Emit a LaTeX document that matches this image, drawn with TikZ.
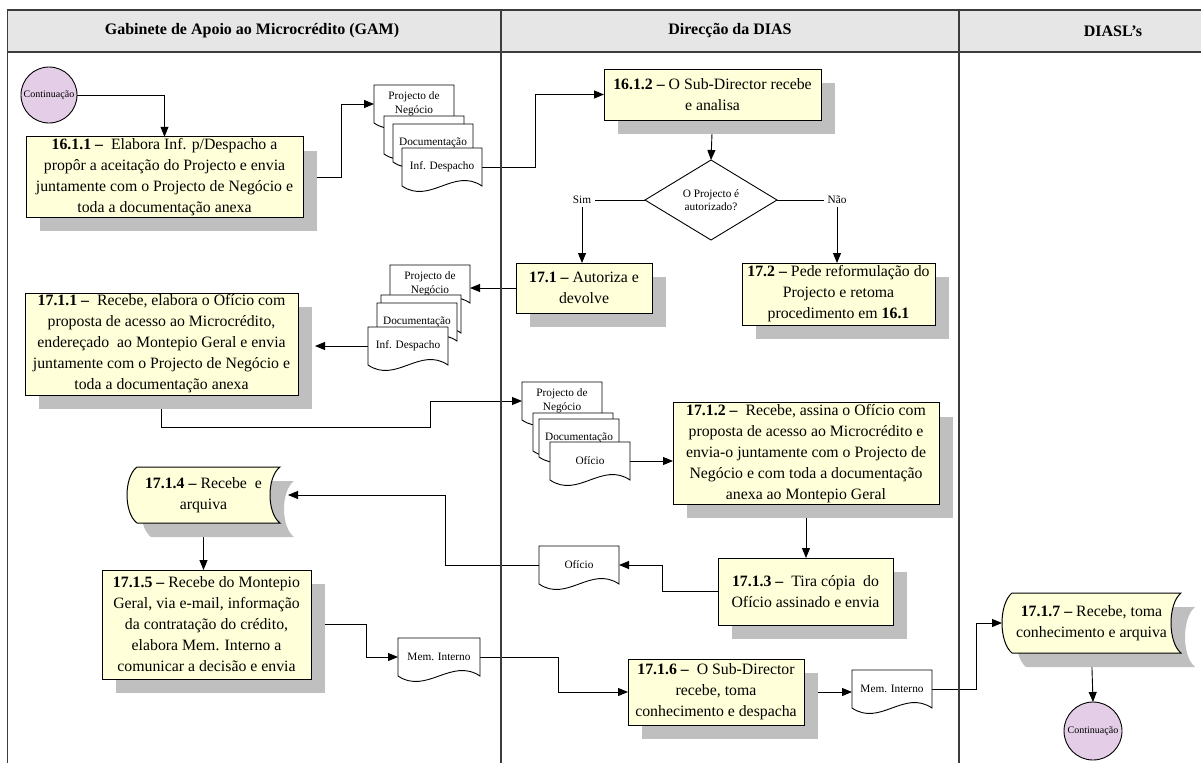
\documentclass[tikz,border=0pt]{standalone}
\usepackage{fontspec}
\setmainfont{Liberation Serif}
\usetikzlibrary{arrows.meta,shapes.geometric,shadows,calc}

% document page with a wavy lower edge
\makeatletter
\pgfdeclareshape{docpage}{%
  \inheritsavedanchors[from=rectangle]%
  \inheritanchorborder[from=rectangle]%
  \inheritanchor[from=rectangle]{center}%
  \inheritanchor[from=rectangle]{north}%
  \inheritanchor[from=rectangle]{south}%
  \inheritanchor[from=rectangle]{east}%
  \inheritanchor[from=rectangle]{west}%
  \inheritanchor[from=rectangle]{north east}%
  \inheritanchor[from=rectangle]{north west}%
  \inheritanchor[from=rectangle]{south east}%
  \inheritanchor[from=rectangle]{south west}%
  \backgroundpath{%
    \southwest \edef\sh@xa{\the\pgf@x}\edef\sh@ya{\the\pgf@y}%
    \northeast \edef\sh@xb{\the\pgf@x}\edef\sh@yb{\the\pgf@y}%
    \pgfmathsetlengthmacro\sh@xc{(\sh@xa)+0.35*((\sh@xb)-(\sh@xa))}%
    \pgfmathsetlengthmacro\sh@xd{(\sh@xb)-0.35*((\sh@xb)-(\sh@xa))}%
    \pgfmathsetlengthmacro\sh@yc{(\sh@ya)+19pt}%
    \pgfmathsetlengthmacro\sh@yd{(\sh@ya)-19pt}%
    \pgfpathmoveto{\pgfqpoint{\sh@xa}{\sh@ya}}%
    \pgfpathlineto{\pgfqpoint{\sh@xa}{\sh@yb}}%
    \pgfpathlineto{\pgfqpoint{\sh@xb}{\sh@yb}}%
    \pgfpathlineto{\pgfqpoint{\sh@xb}{\sh@ya}}%
    \pgfpathcurveto{\pgfqpoint{\sh@xd}{\sh@yc}}{\pgfqpoint{\sh@xc}{\sh@yd}}{\pgfqpoint{\sh@xa}{\sh@ya}}%
    \pgfpathclose
  }%
}
% stored-data shape: convex left side, concave right side
\pgfdeclareshape{storeddata}{%
  \inheritsavedanchors[from=rectangle]%
  \inheritanchorborder[from=rectangle]%
  \inheritanchor[from=rectangle]{center}%
  \inheritanchor[from=rectangle]{north}%
  \inheritanchor[from=rectangle]{south}%
  \inheritanchor[from=rectangle]{east}%
  \inheritanchor[from=rectangle]{west}%
  \inheritanchor[from=rectangle]{north east}%
  \inheritanchor[from=rectangle]{north west}%
  \inheritanchor[from=rectangle]{south east}%
  \inheritanchor[from=rectangle]{south west}%
  \backgroundpath{%
    \southwest \edef\sh@xa{\the\pgf@x}\edef\sh@ya{\the\pgf@y}%
    \northeast \edef\sh@xb{\the\pgf@x}\edef\sh@yb{\the\pgf@y}%
    \pgfmathsetlengthmacro\sh@xl{(\sh@xa)+10pt}%
    \pgfmathsetlengthmacro\sh@xlc{(\sh@xa)-3.333pt}%
    \pgfmathsetlengthmacro\sh@xrc{(\sh@xb)-13.333pt}%
    \pgfmathsetlengthmacro\sh@yt{(\sh@yb)-0.18*((\sh@yb)-(\sh@ya))}%
    \pgfmathsetlengthmacro\sh@ybc{(\sh@ya)+0.18*((\sh@yb)-(\sh@ya))}%
    \pgfpathmoveto{\pgfqpoint{\sh@xl}{\sh@yb}}%
    \pgfpathlineto{\pgfqpoint{\sh@xb}{\sh@yb}}%
    \pgfpathcurveto{\pgfqpoint{\sh@xrc}{\sh@yt}}{\pgfqpoint{\sh@xrc}{\sh@ybc}}{\pgfqpoint{\sh@xb}{\sh@ya}}%
    \pgfpathlineto{\pgfqpoint{\sh@xl}{\sh@ya}}%
    \pgfpathcurveto{\pgfqpoint{\sh@xlc}{\sh@ybc}}{\pgfqpoint{\sh@xlc}{\sh@yt}}{\pgfqpoint{\sh@xl}{\sh@yb}}%
    \pgfpathclose
  }%
}
\makeatother

\definecolor{boxfill}{RGB}{255,255,218}
\definecolor{shadowgray}{RGB}{191,191,191}
\definecolor{lilac}{RGB}{228,205,230}
\definecolor{headgray}{RGB}{230,230,230}
\definecolor{lanegray}{RGB}{60,60,60}

\newcommand\taskfont{\fontsize{15.8pt}{21pt}\selectfont}
\newcommand\docfont{\fontsize{11.3pt}{13.5pt}\selectfont}
\newcommand\decfont{\fontsize{11.3pt}{12.5pt}\selectfont}
\newcommand\circfont{\fontsize{10pt}{12pt}\selectfont}
\newcommand\headfont{\fontsize{16pt}{19pt}\selectfont\bfseries}

\pgfdeclarelayer{background}
\pgfsetlayers{background,main}

\tikzset{
  shd/.style={drop shadow={shadow xshift=14pt, shadow yshift=-14pt,
      fill=shadowgray, opacity=1, draw=none}},
  task/.style={rectangle, draw, line width=1pt, fill=boxfill, align=center,
      inner sep=1.5pt, outer sep=0pt, font=\taskfont, shd},
  store/.style={storeddata, draw, line width=1pt, fill=boxfill, align=center,
      inner sep=0pt, outer sep=0pt, font=\taskfont, shd},
  doc/.style={docpage, draw, line width=0.9pt, fill=white, align=center,
      minimum width=80pt, minimum height=38pt, inner sep=1pt, outer sep=0pt,
      font=\docfont, anchor=north west},
  decision/.style={diamond, draw, line width=0.9pt, fill=white, align=center,
      minimum width=132pt, minimum height=80pt, inner sep=0pt, outer sep=0pt,
      font=\decfont},
  cont/.style={circle, draw, line width=0.9pt, fill=lilac, inner sep=0pt,
      outer sep=0pt, font=\circfont},
  lbl/.style={inner xsep=4pt, inner ysep=3pt, outer sep=0pt, font=\decfont},
  head/.style={font=\headfont, inner sep=0pt},
  lane/.style={draw=lanegray, line width=1.2pt},
  arr/.style={line width=0.9pt, -{Triangle[length=10pt,width=8pt]}},
  link/.style={line width=0.9pt},
}

\begin{document}
\begin{tikzpicture}[x=1pt,y=-1pt]
\useasboundingbox (0,0) rectangle (1201,763);

% swimlane header band and lane borders
\fill[headgray] (7.5,10) rectangle (1201,52);
\draw[lane] (1201,10) -- (7.5,10) -- (7.5,763);
\draw[lane] (7.5,52) -- (1201,52);
\draw[lane] (501,10) -- (501,763);
\draw[lane] (959,10) -- (959,763);
\node[head] (hgam)   at (252,31)  {Gabinete de Apoio ao Microcrédito (GAM)};
\node[head] (hdias)  at (730,31)  {Direcção da DIAS};
\node[head] (hdiasl) at (1113,31) {DIASL’s};

% --- GAM lane ---
\node[cont, minimum size=56pt] (c1) at (49,95) {Continuação};
\node[task, minimum width=277pt, minimum height=80pt] (n1611) at (164.5,177)
  {\textbf{16.1.1 –}~ Elabora Inf. p/Despacho a\\propôr a aceitação do Projecto e envia\\juntamente com o Projecto de Negócio e\\toda a documentação anexa};

\node[doc] (d1a) at (374,85)  {Projecto de\\Negócio};
\node[doc] (d1b) at (384,116) {};
\node[doc] (d1c) at (393,124) {Documentação};
\node[doc] (d1d) at (402,148) {Inf. Despacho};

\node[doc] (d2a) at (390,265) {Projecto de\\Negócio};
\node[doc] (d2b) at (381,295) {};
\node[doc] (d2c) at (377,303) {Documentação};
\node[doc] (d2d) at (368,327) {Inf. Despacho};

\node[task, minimum width=273pt, minimum height=102pt] (n1711) at (161.5,344)
  {\textbf{17.1.1 –}~ Recebe, elabora o Ofício com\\proposta de acesso ao Microcrédito,\\endereçado~ ao Montepio Geral e envia\\juntamente com o Projecto de Negócio e\\toda a documentação anexa};

\node[store, minimum width=153pt, minimum height=56pt] (n1714) at (203.5,495)
  {\textbf{17.1.4 –} Recebe~ e\\arquiva};

\node[task, minimum width=209pt, minimum height=109pt] (n1715) at (206.5,624.5)
  {\textbf{17.1.5 –} Recebe do Montepio\\Geral, via e-mail, informação\\da contratação do crédito,\\elabora Mem. Interno a\\comunicar a decisão e envia};

\node[doc, minimum width=82pt] (d5) at (398,638) {Mem. Interno};

% --- DIAS lane ---
\node[task, minimum width=217pt, minimum height=51pt] (n1612) at (712.5,94.5)
  {\textbf{16.1.2 –} O Sub-Director recebe\\e analisa};
\node[decision] (dia) at (711,200) {O Projecto é\\autorizado?};
\node[lbl] (sim) at (582,200) {Sim};
\node[lbl] (nao) at (837,200) {Não};

\node[task, minimum width=136pt, minimum height=50pt] (n171) at (584,288)
  {\textbf{17.1 –} Autoriza e\\devolve};
\node[task, minimum width=193pt, minimum height=62pt] (n172) at (838.5,294)
  {\textbf{17.2 –} Pede reformulação do\\Projecto e retoma\\procedimento em \textbf{16.1}};

\node[doc] (d3a) at (522,382) {Projecto de\\Negócio};
\node[doc] (d3b) at (533,413) {};
\node[doc] (d3c) at (539,419) {Documentação};
\node[doc] (d3d) at (550,442) {Ofício};

\node[task, minimum width=266pt, minimum height=101pt] (n1712) at (806,453.5)
  {\textbf{17.1.2 –}~ Recebe, assina o Ofício com\\proposta de acesso ao Microcrédito e\\envia-o juntamente com o Projecto de\\Negócio e com toda a documentação\\anexa ao Montepio Geral};

\node[task, minimum width=175pt, minimum height=67pt] (n1713) at (805.5,591.5)
  {\textbf{17.1.3 –}~ Tira cópia~ do\\Ofício assinado e envia};

\node[doc] (d4) at (539,546) {Ofício};

\node[task, minimum width=176pt, minimum height=66pt] (n1716) at (716,692)
  {\textbf{17.1.6 –}~ O Sub-Director\\recebe, toma\\conhecimento e despacha};

\node[doc] (d6) at (852,670) {Mem. Interno};

% --- DIASL's lane ---
\node[store, minimum width=179pt, minimum height=60pt] (n1717) at (1091.5,623)
  {\textbf{17.1.7 –} Recebe, toma\\conhecimento e arquiva};
\node[cont, minimum size=58pt] (c2) at (1093,731) {Continuação};

% connectors run behind the boxes and their shadows
\begin{pgfonlayer}{background}
\draw[arr] (c1.east) -| (n1611.north);
\draw[arr] (n1611.east) -- ++(38,0) |- (d1a.west);
\draw[arr] (d1d.east) -- ++(53,0) |- (n1612.west);
\draw[arr] (n1612.south) -- (dia.north);
\draw[link] (dia.west) -- (sim.east);
\draw[link] (dia.east) -- (nao.west);
\draw[arr] (sim.south) -- (sim.south |- n171.north);
\draw[arr] (nao.south) -- (nao.south |- n172.north);
\draw[arr] (n171.west) -- (n171.west -| d2a.east);
\draw[arr] (d2d.west) -- ($(d2d.west -| n1711.east)+(17,0)$);
\draw[arr] (n1711.south) -- ++(0,32) -- ++(269,0) |- (d3a.west);
\draw[arr] (d3d.east) -- (d3d.east -| n1712.west);
\draw[arr] (n1712.south) -- (n1712.south |- n1713.north);
\draw[arr] (n1713.west) -- ++(-56,0) |- (d4.east);
\draw[arr] (d4.west) -- ++(-94,0) |- ($(n1714.east)+(8,0)$);
\draw[arr] (n1714.south) -- (n1714.south |- n1715.north);
\draw[arr] (n1715.east) -- ++(55,0) |- (d5.west);
\draw[arr] (d5.east) -- ++(78,0) |- (n1716.west);
\draw[arr] (n1716.east) -- (n1716.east -| d6.west);
\draw[arr] (d6.east) -- ++(44,0) |- (n1717.west);
\draw[arr] (n1717.south) -- (c2.north);
\end{pgfonlayer}
\end{tikzpicture}
\end{document}
